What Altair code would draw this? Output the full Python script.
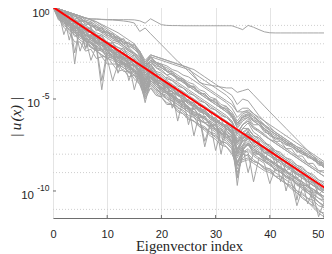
import altair as alt
import pandas as pd

# ---------------- data ----------------
x_ticks = [0, 10, 20, 30, 40, 50]
y_major = [1, 1e-5, 1e-10]
y_exps = ["0", "-5", "-10"]
y_minor = [1e-1, 1e-2, 1e-3, 1e-4, 1e-6, 1e-7, 1e-8, 1e-9, 1e-11]

# red reference line: index, log10 value
red_idx = [0, 51]
red_log = [0.0, -10.0]

# gray curves: log10(|u|) in tenths, eigenvector index 0..51
A = ("0,-1,-2,-3,-4,-5,-6,-6.5,-6.5,-6.7,"
     "-6.8,-6.8,-6.9,-6.9,-6.9,-7,-7.5,-8.8,-6.4,-8,"
     "-9.6,-10,-10.1,-10.1,-10.2,-10.2,-10.2,-10.2,-10.2,-10.2,"
     "-10.2,-10.2,-10.2,-10.2,-11.2,-12.3,-10,-11,-12.3,-13.5,"
     "-14,-14.1,-14.1,-14.1,-14.1,-14.1,-14.1,-14.1,-14.1,-14.1,-14.1,-14.1")
B = ("0,-1,-2,-3,-4,-5,-6,-6.5,-6.6,-6.8,"
     "-7,-7.1,-7.3,-7.6,-8,-8.7,-13.3,-11.4,-14.5,-17.5,"
     "-20.5,-23.5,-26.5,-29.5,-32,-35,-38,-40.5,-43,-45,"
     "-47,-49,-51,-53,-57,-57,-56,-58,-60,-62,"
     "-64,-66,-68,-70,-72,-74,-76,-78,-80,-82,-84,-86")
C = ("0,-1,-2,-3,-4,-5,-6,-7,-8,-9.5,"
     "-11,-12.5,-14,-16,-18,-20,-24,-29,-26,-27,"
     "-28,-29,-30,-31,-32,-33,-37,-41,-42,-42.5,"
     "-43,-43.5,-44,-44,-46.4,-45.5,-44.6,-47.7,-50.8,-53.9,"
     "-57,-60,-63,-66,-69,-72,-75,-78,-81,-84,-87.5,-90.5")
f1 = ("0,-1,-2,-3,-4,-5,-6,-7,-9,-11,"
      "-13,-15,-17,-20,-22,-25,-28,-32,-27,-28,"
      "-29,-30,-31,-32,-33,-34,-36,-38,-40,-42,"
      "-44,-46,-48,-51,-57,-55,-55,-58,-61,-64,"
      "-66,-68,-70,-72,-74,-76,-77,-79,-81,-83,-85,-87")
f2 = ("0,-1,-2,-3,-4,-5,-7,-8,-10,-12,"
      "-14,-16,-18,-21,-23,-26,-29,-33,-29,-30,"
      "-31,-32,-34,-35,-37,-38,-40,-42,-44,-46,"
      "-48,-50,-52,-55,-60,-57,-57,-59,-62,-64,"
      "-67,-69,-71,-73,-75,-77,-79,-80,-82,-84,-86,-88")
f3 = ("0,-2,-3,-4,-5,-6,-8,-9,-11,-13,"
      "-15,-17,-19,-21,-24,-26,-29,-34,-30,-32,"
      "-33,-35,-37,-38,-40,-42,-44,-46,-48,-50,"
      "-52,-54,-56,-58,-63,-60,-59,-62,-64,-66,"
      "-68,-70,-72,-74,-76,-78,-80,-81,-83,-85,-87,-89")
f4 = ("0,-1,-2,-3,-4,-5,-6,-7,-8,-10,"
      "-12,-14,-16,-18,-20,-22,-25,-30,-26,-27,"
      "-28,-29,-30,-31,-32,-33,-34,-36,-38,-40,"
      "-42,-44,-46,-48,-53,-50,-51,-55,-59,-62,"
      "-65,-68,-70,-72,-74,-76,-78,-80,-82,-84,-85,-87")
b1 = ("0,-1,-3,-3,-5,-6,-8,-9,-11,-12,"
      "-14,-15,-17,-18,-20,-21,-24,-31,-28,-30,"
      "-32,-34,-36,-38,-40,-42,-44,-46,-48,-50,"
      "-52,-54,-56,-59,-63,-60,-59,-61,-63,-66,"
      "-69,-71,-72,-74,-75,-77,-79,-81,-83,-85,-87,-89")
b2 = ("0,-3,-2,-5,-4,-8,-7,-11,-10,-14,"
      "-13,-17,-16,-20,-19,-23,-25,-33,-29,-33,"
      "-34,-37,-36,-40,-40,-44,-43,-47,-47,-51,"
      "-50,-55,-54,-59,-66,-62,-60,-64,-64,-68,"
      "-69,-73,-73,-77,-77,-81,-81,-85,-85,-89,-89,-93")
b3 = ("0,-2,-5,-6,-9,-10,-13,-14,-17,-18,"
      "-21,-22,-25,-25,-28,-29,-33,-38,-31,-36,"
      "-38,-41,-42,-45,-46,-49,-50,-53,-54,-57,"
      "-58,-61,-62,-65,-72,-66,-63,-68,-70,-73,"
      "-76,-78,-80,-82,-84,-86,-88,-90,-92,-94,-96,-98")
b4 = ("0,-4,-6,-9,-10,-13,-15,-17,-19,-21,"
      "-23,-25,-26,-28,-30,-32,-35,-42,-34,-39,"
      "-41,-44,-46,-48,-50,-53,-54,-57,-58,-61,"
      "-63,-65,-67,-70,-77,-71,-68,-72,-74,-77,"
      "-79,-81,-83,-85,-87,-89,-91,-93,-95,-97,-100,-102")
b5 = ("0,-3,-8,-5,-31,-9,-16,-12,-20,-17,"
      "-24,-21,-28,-24,-31,-28,-37,-45,-36,-40,"
      "-45,-43,-49,-46,-52,-50,-56,-53,-60,-57,"
      "-63,-61,-67,-65,-80,-72,-67,-74,-73,-80,"
      "-78,-85,-83,-89,-87,-93,-91,-97,-95,-102,-99,-105")
b6 = ("0,-5,-7,-10,-12,-14,-17,-18,-22,-45,"
      "-25,-26,-30,-30,-34,-34,-39,-52,-40,-43,"
      "-46,-47,-50,-51,-55,-55,-59,-58,-63,-62,"
      "-67,-66,-71,-70,-97,-76,-71,-76,-78,-81,"
      "-84,-85,-88,-89,-92,-93,-97,-97,-101,-101,-105,-106")
b7 = ("0,-2,-6,-8,-11,-13,-15,-18,-19,-23,"
      "-23,-27,-27,-31,-31,-35,-37,-43,-38,-41,"
      "-44,-46,-49,-50,-54,-54,-58,-60,-76,-64,"
      "-66,-69,-71,-74,-81,-76,-73,-77,-79,-82,"
      "-83,-86,-87,-90,-91,-94,-95,-98,-99,-102,-103,-106")
b8 = ("0,-6,-9,-11,-16,-15,-19,-21,-24,-26,"
      "-28,-29,-31,-33,-35,-37,-41,-44,-43,-46,"
      "-48,-50,-53,-54,-57,-60,-62,-64,-66,-68,"
      "-71,-73,-76,-79,-84,-83,-82,-84,-85,-87,"
      "-88,-90,-92,-94,-96,-100,-102,-104,-107,-110,-113,-115")
b9 = ("0,-1,-4,-3,-7,-5,-10,-8,-13,-11,"
      "-16,-14,-19,-17,-22,-20,-27,-30,-27,-31,"
      "-31,-35,-35,-39,-39,-43,-43,-47,-47,-51,"
      "-51,-55,-55,-60,-64,-59,-58,-62,-62,-67,"
      "-68,-72,-71,-75,-74,-79,-78,-82,-82,-86,-86,-90")
b10 = ("0,-3,-5,-7,-9,-11,-13,-16,-17,-20,"
       "-21,-24,-25,-27,-29,-31,-34,-40,-33,-37,"
       "-39,-42,-44,-46,-48,-51,-52,-55,-56,-59,"
       "-61,-63,-65,-68,-74,-69,-66,-70,-72,-75,"
       "-77,-80,-82,-85,-87,-105,-91,-93,-95,-97,-99,-101")
b11 = ("0,-4,-7,-8,-13,-12,-18,-15,-22,-19,"
       "-26,-23,-36,-27,-33,-31,-38,-46,-38,-42,"
       "-43,-47,-47,-52,-51,-56,-55,-60,-60,-65,"
       "-64,-69,-69,-74,-85,-78,-74,-80,-80,-84,"
       "-85,-89,-89,-93,-93,-97,-98,-101,-103,-106,-108,-110")
b12 = ("0,-2,-3,-4,-6,-7,-9,-10,-12,-13,"
       "-15,-17,-18,-19,-21,-23,-26,-32,-29,-31,"
       "-33,-35,-37,-39,-41,-43,-45,-47,-49,-51,"
       "-53,-55,-57,-60,-65,-61,-60,-62,-64,-67,"
       "-70,-71,-73,-75,-76,-78,-80,-81,-83,-84,-86,-88")
b13 = ("0,-4,-6,-9,-11,-12,-22,-16,-19,-21,"
       "-22,-25,-27,-29,-30,-33,-36,-43,-37,-40,"
       "-42,-45,-46,-62,-50,-52,-54,-56,-58,-60,"
       "-62,-64,-66,-69,-79,-75,-70,-73,-75,-78,"
       "-80,-82,-84,-86,-88,-90,-92,-95,-97,-99,-101,-103")
b14 = ("0,-5,-8,-11,-14,-16,-18,-20,-23,-24,"
       "-27,-28,-30,-32,-34,-36,-40,-49,-41,-44,"
       "-47,-48,-51,-53,-55,-57,-60,-62,-63,-66,"
       "-68,-71,-73,-76,-88,-80,-78,-81,-83,-85,"
       "-96,-88,-90,-92,-94,-96,-99,-101,-104,-106,-109,-111")
b15 = ("0,-3,-7,-7,-12,-11,-16,-15,-20,-19,"
       "-24,-23,-28,-27,-32,-31,-36,-41,-37,-41,"
       "-42,-46,-46,-50,-51,-55,-55,-59,-60,-64,"
       "-64,-69,-69,-73,-82,-77,-75,-79,-80,-83,"
       "-85,-87,-89,-92,-93,-96,-97,-100,-101,-104,-105,-108")
b16 = ("0,-2,-15,-7,-9,-12,-14,-16,-18,-20,"
       "-22,-24,-26,-27,-29,-31,-35,-39,-33,-38,"
       "-40,-42,-44,-47,-49,-51,-53,-55,-57,-59,"
       "-61,-75,-64,-66,-73,-68,-66,-70,-71,-74,"
       "-76,-79,-81,-83,-85,-87,-89,-92,-108,-96,-98,-100")
b17 = ("0,-3,-6,-8,-11,-13,-15,-17,-19,-21,"
       "-23,-25,-27,-28,-31,-32,-35,-39,-36,-40,"
       "-42,-44,-46,-48,-50,-52,-54,-56,-58,-60,"
       "-62,-64,-66,-68,-75,-71,-69,-73,-75,-77,"
       "-80,-82,-84,-86,-88,-90,-92,-94,-96,-98,-100,-102")
b18 = ("0,-2,-4,-18,-7,-9,-11,-13,-15,-17,"
       "-19,-21,-22,-24,-26,-28,-31,-36,-31,-35,"
       "-49,-38,-40,-42,-44,-46,-48,-50,-52,-54,"
       "-56,-58,-60,-62,-69,-64,-62,-66,-68,-70,"
       "-72,-74,-76,-78,-80,-82,-84,-86,-88,-90,-92,-94")
b19 = ("0,-5,-9,-9,-14,-14,-19,-19,-24,-23,"
       "-28,-27,-32,-31,-36,-35,-40,-47,-42,-45,"
       "-47,-50,-51,-55,-56,-59,-60,-64,-65,-68,"
       "-69,-73,-74,-77,-90,-82,-80,-83,-85,-88,"
       "-89,-92,-94,-96,-98,-101,-103,-106,-108,-111,-112,-115")
b20 = ("0,-3,-5,-8,-10,-12,-23,-15,-17,-19,"
       "-21,-23,-33,-26,-28,-30,-33,-40,-35,-38,"
       "-40,-42,-45,-47,-49,-51,-53,-55,-57,-60,"
       "-61,-63,-65,-67,-74,-70,-68,-71,-73,-84,"
       "-77,-79,-81,-83,-85,-87,-89,-91,-93,-95,-97,-99")
b21 = ("0,-4,-6,-8,-11,-13,-14,-17,-18,-21,"
       "-22,-25,-26,-28,-40,-31,-34,-42,-35,-39,"
       "-41,-43,-45,-47,-49,-64,-53,-55,-57,-59,"
       "-61,-63,-65,-67,-78,-72,-69,-72,-74,-76,"
       "-78,-80,-95,-84,-86,-88,-90,-92,-94,-96,-98,-100")
b22 = ("0,-7,-8,-13,-14,-17,-18,-22,-23,-27,"
       "-27,-31,-31,-35,-35,-39,-42,-48,-44,-47,"
       "-49,-52,-53,-56,-58,-61,-62,-65,-67,-70,"
       "-72,-75,-76,-80,-86,-84,-83,-85,-87,-89,"
       "-90,-92,-94,-96,-99,-101,-104,-106,-109,-112,-114,-117")
b23 = ("0,-2,-2,-4,-5,-7,-8,-10,-11,-13,"
       "-14,-16,-17,-19,-20,-22,-24,-31,-27,-30,"
       "-32,-33,-35,-37,-39,-41,-42,-45,-46,-49,"
       "-50,-53,-54,-57,-62,-58,-57,-60,-62,-65,"
       "-67,-69,-71,-73,-75,-77,-79,-81,-83,-85,-87,-89")
b24 = ("0,-4,-7,-9,-12,-14,-16,-20,-21,-40,"
       "-24,-27,-28,-31,-32,-35,-38,-44,-38,-42,"
       "-44,-46,-49,-51,-53,-55,-58,-60,-73,-64,"
       "-66,-68,-70,-73,-86,-77,-74,-78,-80,-82,"
       "-84,-86,-88,-91,-93,-95,-97,-99,-102,-104,-106,-108")
b25 = ("0,-3,-6,-9,-10,-14,-15,-18,-20,-22,"
       "-24,-26,-28,-30,-32,-34,-37,-45,-39,-41,"
       "-44,-46,-48,-50,-52,-55,-57,-59,-61,-63,"
       "-65,-67,-69,-72,-93,-78,-74,-77,-79,-81,"
       "-83,-85,-87,-89,-91,-93,-95,-107,-99,-101,-103,-105")
b26 = ("0,-2,-4,-5,-7,-9,-10,-12,-14,-15,"
       "-17,-19,-20,-22,-24,-25,-28,-34,-30,-33,"
       "-35,-37,-39,-41,-43,-45,-47,-49,-51,-53,"
       "-55,-57,-59,-62,-68,-64,-61,-65,-67,-69,"
       "-72,-73,-75,-77,-79,-81,-83,-85,-87,-89,-90,-92")
b27 = ("0,-3,-6,-6,-25,-10,-13,-13,-17,-18,"
       "-21,-22,-25,-26,-29,-30,-33,-41,-34,-38,"
       "-39,-43,-44,-48,-48,-52,-53,-57,-57,-61,"
       "-62,-80,-66,-69,-78,-73,-70,-74,-76,-79,"
       "-81,-83,-85,-87,-89,-91,-93,-95,-97,-99,-101,-103")
b28 = ("0,-5,-7,-10,-13,-15,-17,-19,-22,-23,"
       "-26,-27,-29,-31,-33,-35,-38,-47,-40,-43,"
       "-45,-47,-50,-52,-54,-56,-59,-61,-63,-65,"
       "-67,-70,-72,-75,-85,-79,-77,-80,-82,-84,"
       "-86,-88,-90,-92,-95,-108,-99,-101,-103,-106,-108,-110")
b29 = ("0,-3,-5,-9,-9,-13,-13,-17,-17,-21,"
       "-21,-25,-25,-28,-28,-32,-32,-37,-35,-40,"
       "-40,-44,-44,-48,-48,-52,-52,-56,-56,-60,"
       "-60,-64,-64,-68,-73,-71,-71,-76,-75,-79,"
       "-79,-83,-83,-87,-87,-91,-91,-95,-95,-99,-99,-103")
b30 = ("0,-4,-8,-10,-13,-15,-17,-29,-21,-23,"
       "-25,-27,-29,-30,-32,-34,-37,-44,-40,-42,"
       "-44,-46,-48,-50,-52,-54,-70,-58,-60,-62,"
       "-64,-66,-68,-70,-79,-75,-75,-78,-79,-81,"
       "-83,-85,-87,-89,-91,-93,-95,-97,-99,-101,-103,-105")
b31 = ("0,-1,-3,-4,-7,-8,-11,-12,-15,-16,"
       "-19,-20,-22,-23,-25,-27,-30,-35,-31,-35,"
       "-36,-39,-40,-43,-44,-47,-48,-51,-52,-55,"
       "-56,-59,-60,-63,-69,-64,-62,-66,-67,-70,"
       "-72,-74,-76,-78,-80,-82,-84,-86,-88,-90,-92,-94")
b32 = ("0,-5,-10,-12,-15,-18,-20,-22,-24,-26,"
       "-28,-40,-31,-33,-35,-37,-39,-45,-42,-45,"
       "-47,-49,-51,-53,-55,-57,-59,-61,-63,-65,"
       "-67,-69,-71,-74,-84,-78,-79,-95,-82,-84,"
       "-86,-88,-90,-92,-94,-96,-98,-100,-102,-114,-106,-108")
b33 = ("0,-2,-4,-6,-8,-10,-12,-14,-16,-18,"
       "-20,-22,-24,-25,-27,-29,-32,-37,-34,-37,"
       "-39,-41,-55,-45,-47,-49,-51,-53,-55,-57,"
       "-59,-61,-63,-66,-74,-69,-69,-73,-74,-76,"
       "-78,-80,-82,-84,-86,-88,-90,-92,-94,-96,-98,-100")
b34 = ("0,-6,-11,-14,-19,-19,-24,-23,-28,-27,"
       "-31,-31,-35,-34,-38,-37,-42,-50,-44,-48,"
       "-49,-53,-53,-57,-58,-61,-62,-65,-66,-69,"
       "-70,-73,-74,-77,-92,-80,-81,-84,-85,-88,"
       "-88,-92,-92,-96,-97,-100,-101,-104,-105,-108,-109,-112")
b35 = ("0,-1,-2,-3,-5,-6,-8,-10,-12,-14,"
       "-16,-18,-19,-21,-23,-25,-27,-33,-29,-31,"
       "-33,-35,-37,-39,-41,-43,-45,-47,-49,-51,"
       "-53,-55,-57,-59,-64,-60,-58,-60,-62,-64,"
       "-67,-69,-71,-73,-75,-77,-79,-81,-83,-85,-87,-89")
b36 = ("0,-3,-6,-8,-11,-24,-15,-17,-19,-21,"
       "-23,-25,-27,-28,-30,-45,-34,-38,-38,-40,"
       "-42,-44,-46,-48,-50,-52,-54,-56,-58,-60,"
       "-62,-64,-66,-68,-77,-73,-72,-75,-77,-79,"
       "-81,-83,-85,-100,-89,-91,-93,-95,-97,-99,-101,-103")
b37 = ("0,-4,-7,-11,-13,-16,-17,-20,-22,-24,"
       "-26,-28,-30,-31,-33,-35,-38,-46,-40,-43,"
       "-45,-47,-49,-51,-53,-55,-57,-59,-61,-63,"
       "-78,-67,-69,-71,-80,-76,-90,-79,-80,-82,"
       "-84,-86,-88,-90,-92,-94,-96,-98,-100,-102,-104,-106")
b38 = ("0,-1,-5,-3,-9,-7,-13,-11,-17,-15,"
       "-21,-19,-25,-22,-28,-26,-30,-36,-32,-36,"
       "-37,-40,-42,-44,-46,-48,-50,-52,-54,-56,"
       "-58,-60,-62,-64,-70,-66,-66,-70,-71,-74,"
       "-75,-78,-79,-82,-83,-86,-87,-90,-91,-94,-95,-98")

curves = {"A": A, "B": B, "C": C, "f1": f1, "f2": f2, "f3": f3, "f4": f4,
          "b1": b1, "b2": b2, "b3": b3, "b4": b4, "b5": b5, "b6": b6,
          "b7": b7, "b8": b8, "b9": b9, "b10": b10, "b11": b11, "b12": b12,
          "b13": b13, "b14": b14, "b15": b15, "b16": b16, "b17": b17,
          "b18": b18, "b19": b19, "b20": b20, "b21": b21, "b22": b22,
          "b23": b23, "b24": b24, "b25": b25, "b26": b26, "b27": b27,
          "b28": b28, "b29": b29, "b30": b30, "b31": b31, "b32": b32,
          "b33": b33, "b34": b34, "b35": b35, "b36": b36, "b37": b37,
          "b38": b38}

rows = []
for name, s in curves.items():
    vals = [float(v) for v in s.split(",")]
    assert len(vals) == 52, (name, len(vals))
    for i, v in enumerate(vals):
        rows.append({"series": name, "idx": i, "u": 10 ** (v / 10.0)})
gray_df = pd.DataFrame(rows)
red_df = pd.DataFrame({"idx": red_idx, "u": [10 ** v for v in red_log]})

# ---------------- layout ----------------
W, H = 271, 211
AX = "#6e6e6e"
TXT = "#262626"
x_scale = alt.Scale(domain=[0, 50], nice=False, zero=False)
y_scale = alt.Scale(type="log", domain=[3.4e-12, 1], nice=False)

minor = alt.Chart(pd.DataFrame({"v": y_minor})).mark_rule(
    color="#cfcfcf", strokeDash=[1, 2], strokeWidth=1
).encode(y=alt.Y("v:Q", scale=y_scale, axis=None))

gray = alt.Chart(gray_df).mark_line(color="#a4a4a4", strokeWidth=1, clip=True).encode(
    x=alt.X("idx:Q", scale=x_scale,
            axis=alt.Axis(values=x_ticks, grid=True, gridColor="#e4e4e4", ticks=False,
                          tickSize=0, domainColor=AX, labelFont="Liberation Sans",
                          labelFontSize=11, labelColor=TXT, labelPadding=10,
                          labelAlign={"condition": {"test": "datum.value == 50", "value": "right"},
                                      "value": "center"},
                          title="Eigenvector index", titleFont="Liberation Serif",
                          titleFontSize=14.7, titleFontWeight="normal", titleColor=TXT,
                          titleBaseline="alphabetic", titleY=32.5, titleX=136)),
    y=alt.Y("u:Q", scale=y_scale,
            axis=alt.Axis(values=y_major, grid=True, gridColor="#e4e4e4", labels=False,
                          ticks=False, tickSize=0, domainColor=AX, title=None)),
    detail="series:N",
)

red = alt.Chart(red_df).mark_line(color="#ff0000", strokeWidth=2, clip=True).encode(
    x=alt.X("idx:Q", scale=x_scale), y=alt.Y("u:Q", scale=y_scale)
)

xt = alt.Chart(pd.DataFrame({"x": x_ticks[1:]})).mark_rule(color=AX).encode(
    x=alt.X("x:Q", scale=x_scale), y=alt.value(H), y2=alt.value(H - 3)
)
yt = alt.Chart(pd.DataFrame({"v": y_major[1:]})).mark_rule(color=AX).encode(
    y=alt.Y("v:Q", scale=y_scale), x=alt.value(0), x2=alt.value(3)
)

lab_df = pd.DataFrame({"v": y_major, "e": y_exps})
base_x = {"0": -8, "-5": -13, "-10": -19}
base_dy = {"0": 9.7, "-5": 7.7, "-10": 7.7}
exp_dy = {"0": 7.5, "-5": 0.5, "-10": 0.5}
label_layers = []
for e in y_exps:
    sub = lab_df[lab_df["e"] == e]
    label_layers.append(
        alt.Chart(sub).mark_text(align="right", baseline="alphabetic", dy=base_dy[e],
                                 font="Liberation Sans", fontSize=11.5, color=TXT)
        .encode(y=alt.Y("v:Q", scale=y_scale), x=alt.value(base_x[e]), text=alt.value("10"))
    )
    label_layers.append(
        alt.Chart(sub).mark_text(align="right", baseline="alphabetic", dy=exp_dy[e],
                                 font="Liberation Sans", fontSize=8.5, color=TXT)
        .encode(y=alt.Y("v:Q", scale=y_scale), x=alt.value(-3.5), text="e:N")
    )

ytitle = alt.Chart(pd.DataFrame({"t": ["|\u2009u\u200a(x)\u200a\u2009|"]})).mark_text(
    angle=270, align="center", baseline="middle", font="Liberation Serif",
    fontStyle="italic", fontSize=15, color=TXT
).encode(text="t:N", x=alt.value(-37), y=alt.value(110))

chart = alt.layer(minor, gray, red, xt, yt, *label_layers, ytitle).properties(
    width=W, height=H,
    autosize=alt.AutoSizeParams(type="none"),
    padding={"left": 45, "top": -1, "right": 0, "bottom": 36},
).configure_view(stroke=None).configure(background="white")

chart.save("out.html", embed_options={"renderer": "svg", "actions": False})
